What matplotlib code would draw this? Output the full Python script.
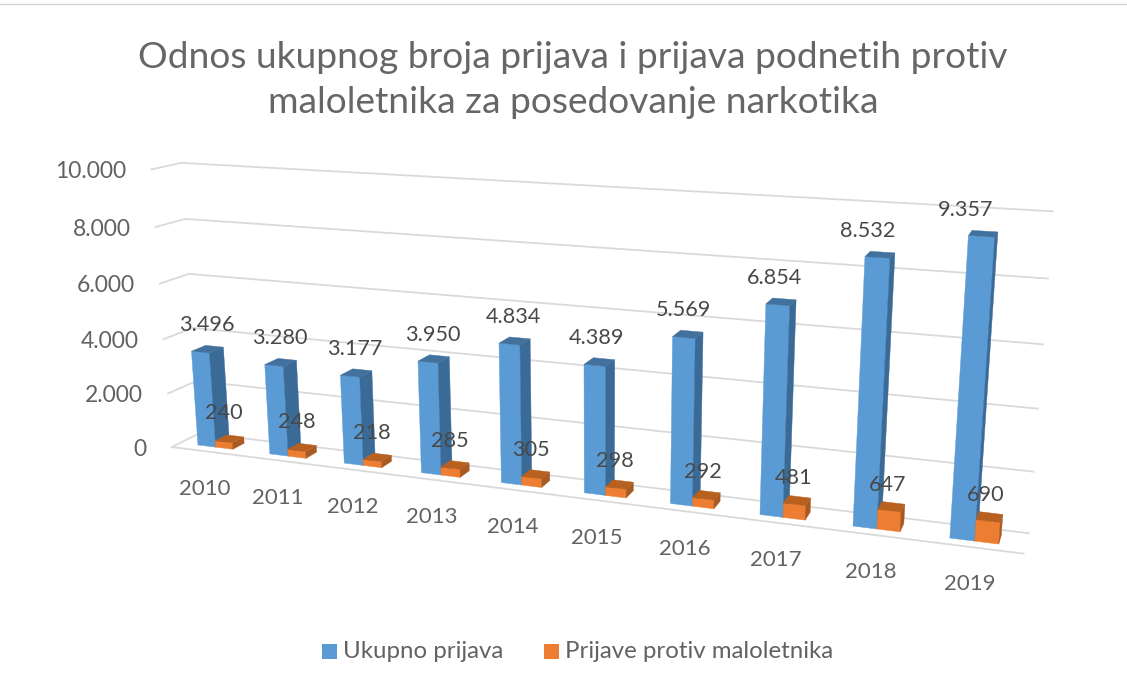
import numpy as np
import matplotlib.pyplot as plt
from matplotlib.patches import Polygon, Rectangle

plt.rcParams['font.family'] = ['Lato', 'DejaVu Sans']

years = ['2010', '2011', '2012', '2013', '2014', '2015', '2016', '2017', '2018', '2019']
ukupno = [3496, 3280, 3177, 3950, 4834, 4389, 5569, 6854, 8532, 9357]
maloletnici = [240, 248, 218, 285, 305, 298, 292, 481, 647, 690]
y_ticks = [0, 2000, 4000, 6000, 8000, 10000]
y_tick_labels = ['0', '2.000', '4.000', '6.000', '8.000', '10.000']
series_names = ['Ukupno prijava', 'Prijave protiv maloletnika']
title = 'Odnos ukupnog broja prijava i prijava podnetih protiv\nmaloletnika za posedovanje narkotika'

VMAX = 10000.0
GRAY = '#626262'
GRID = '#D9D9D9'

# calibration of the 3d box: (category, value, depth) -> pixel, front is depth 0
calib = [
    (0, 1.0, 0, 150, 170), (0, .8, 0, 155, 228), (0, .6, 0, 160, 283),
    (0, .4, 0, 163, 340), (0, .2, 0, 168, 392), (0, 0, 0, 172, 446),
    (0, 1.0, 1, 182, 163), (0, .8, 1, 185, 219), (0, .6, 1, 190, 274),
    (0, .4, 1, 193, 328), (0, .2, 1, 196, 381), (0, 0, 1, 197, 434),
    (10, 1.0, 1, 1053, 211), (10, .8, 1, 1048, 278), (10, .6, 1, 1043, 344),
    (10, .4, 1, 1038, 408), (10, .2, 1, 1033, 472), (10, 0, 1, 1028, 533),
    (10, 0, 0, 1023, 555),
    (.25, 0, .3, 199, 444), (5.25, 0, .3, 586, 494), (9.25, 0, .3, 950, 538),
    (.25, .3496, .3, 193, 351), (9.25, .9357, .3, 968, 235),
]
A = []
for u, v, d, px, py in calib:
    A.append([u, v, d, 1, 0, 0, 0, 0, -px*u, -px*v, -px*d, -px])
    A.append([0, 0, 0, 0, u, v, d, 1, -py*u, -py*v, -py*d, -py])
P = np.linalg.svd(np.array(A, dtype=float))[2][-1].reshape(3, 4)


def project(u, value, d):
    h = P @ np.array([u, value / VMAX, d, 1.0])
    return h[0] / h[2], h[1] / h[2]


def draw_bar(ax, u0, u1, d0, d1, value, front, side, top):
    faces = [
        ([(u0, 0, d0), (u1, 0, d0), (u1, value, d0), (u0, value, d0)], front),
        ([(u1, 0, d0), (u1, 0, d1), (u1, value, d1), (u1, value, d0)], side),
        ([(u0, value, d0), (u1, value, d0), (u1, value, d1), (u0, value, d1)], top),
    ]
    for pts, col in faces:
        ax.add_patch(Polygon([project(*p) for p in pts], closed=True, fc=col, ec=col, lw=0.3, zorder=3))


fig = plt.figure(figsize=(11.27, 6.87), dpi=100)
ax = fig.add_axes([0, 0, 1, 1])
ax.set_xlim(0, 1127)
ax.set_ylim(687, 0)
ax.axis('off')

ax.plot([0, 1127], [4, 4], color='#D4D4D4', lw=1)

# gridlines
for t, lab in zip(y_ticks, y_tick_labels):
    pts = [project(0, t, 0), project(0, t, 1), project(10, t, 1)]
    ax.plot(*zip(*pts), color=GRID, lw=1.3, zorder=1)
    x, y = pts[0]
    ax.text(x - 25, y + 2, lab, ha='right', va='center', fontsize=16.5, color=GRAY)
ax.plot(*zip(project(0, 0, 0), project(10, 0, 0)), color=GRID, lw=1.3, zorder=1)

D0, D1 = .3, .8
for i, year in enumerate(years):
    draw_bar(ax, i + .25, i + .5, D0, D1, ukupno[i], '#5B9BD5', '#3A6A96', '#41719C')
    draw_bar(ax, i + .5, i + .74, D0, D1 - .08, maloletnici[i], '#ED7D31', '#A85A22', '#B8601F')

    bx, _ = project(i + .375, 0, D0)
    _, by = project(i + .375, ukupno[i], D1)
    ax.text(bx + .4 * i, by - 21, f'{ukupno[i]:,}'.replace(',', '.'), ha='center', va='center',
            fontsize=15.6, color='#484848', zorder=5)
    ox, _ = project(i + .625, 0, D0)
    _, oy = project(i + .625, maloletnici[i], D1)
    ax.text(ox - 1, oy - 21.5 + .6 * i, str(maloletnici[i]), ha='center', va='center',
            fontsize=15.6, color='#484848', zorder=5)

    lx, ly = project(i + .5, 0, 0)
    ax.text(lx - 3, ly + 37, year, ha='center', va='center', fontsize=16, color=GRAY)

ax.text(573, 80, title, ha='center', va='center', fontsize=26.7, color='#666666', linespacing=1.47)

# legend
ax.add_patch(Rectangle((322, 644), 15, 15, fc='#5B9BD5', ec='none'))
ax.add_patch(Rectangle((544, 644), 15, 15, fc='#ED7D31', ec='none'))
ax.text(343, 651, series_names[0], ha='left', va='center', fontsize=17.3, color=GRAY)
ax.text(565, 651, series_names[1], ha='left', va='center', fontsize=17.3, color=GRAY)

fig.savefig('out.png', dpi=100)
